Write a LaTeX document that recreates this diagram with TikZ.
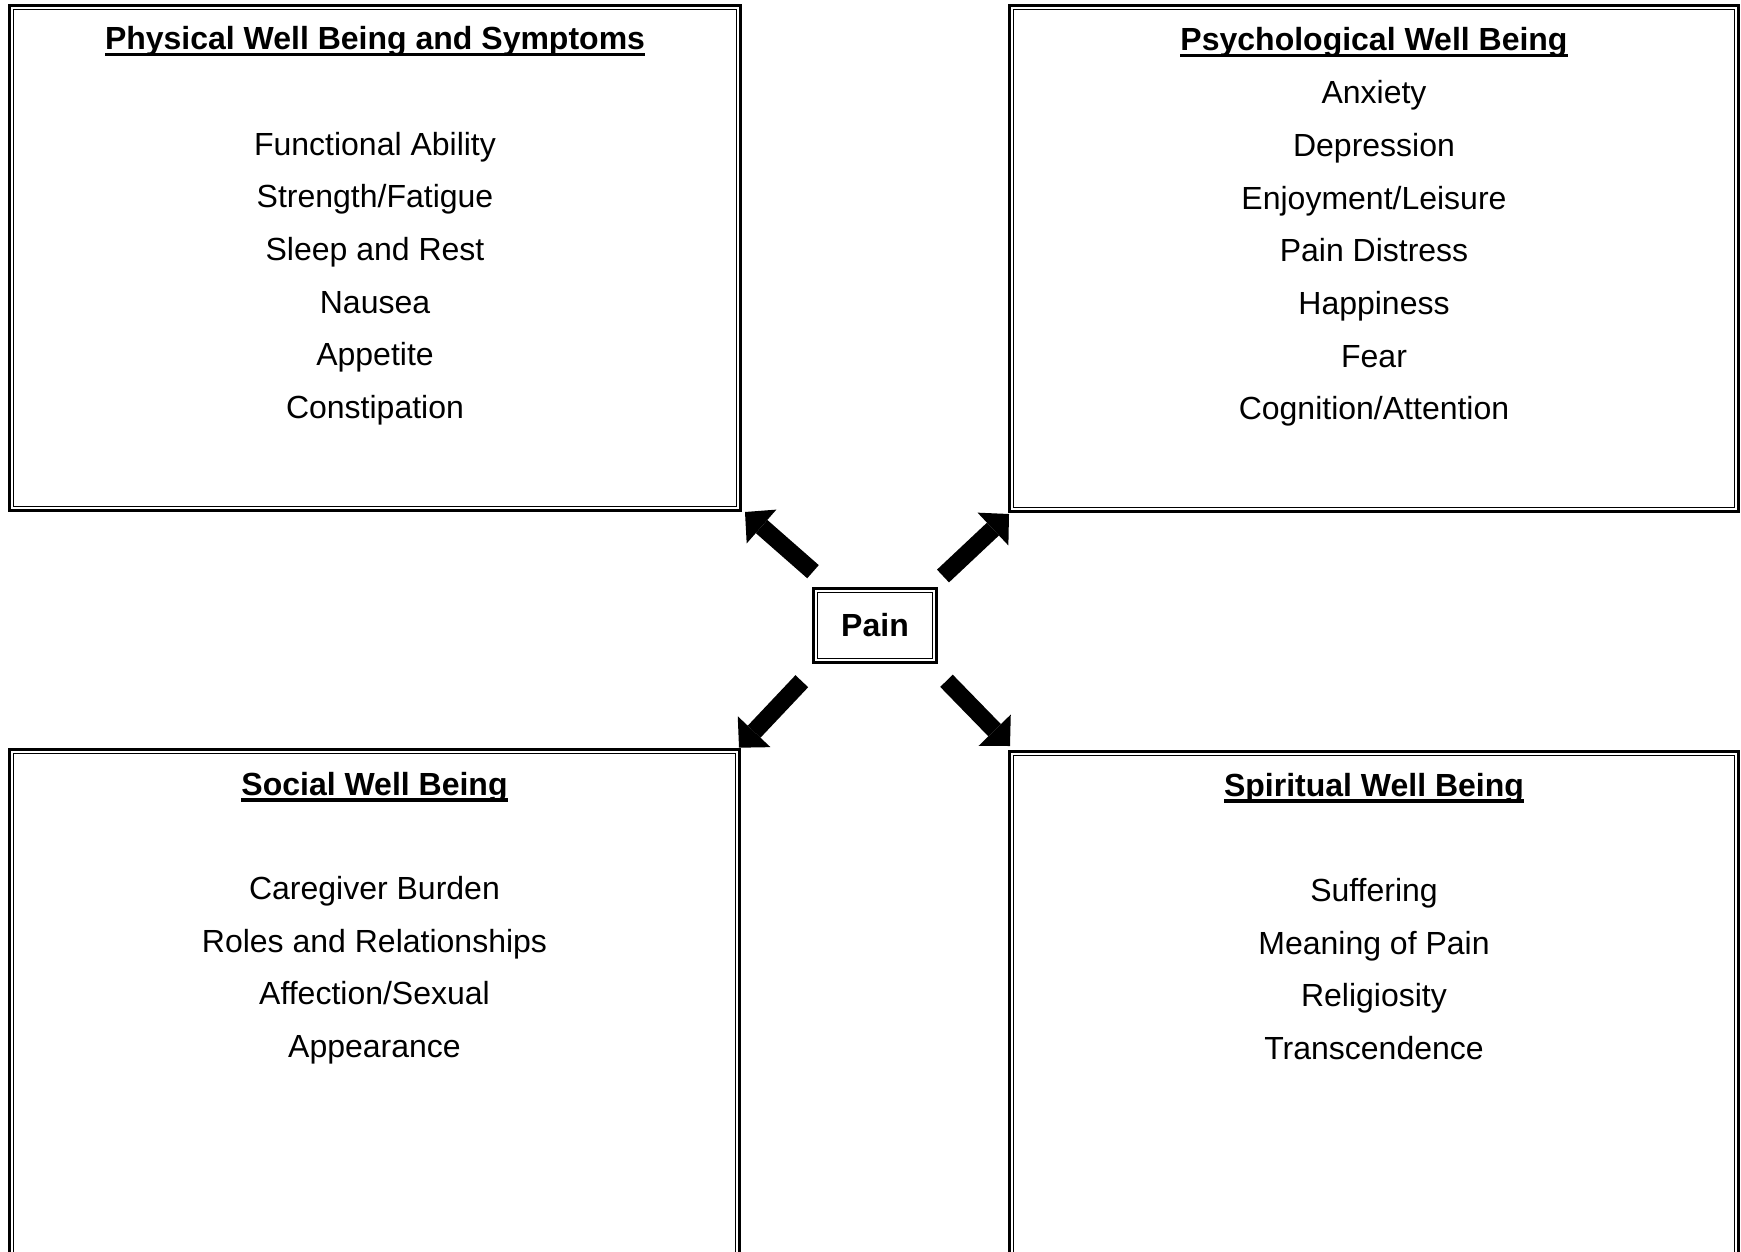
\documentclass[tikz,border=0pt]{standalone}
\usepackage{fontspec}
\setmainfont{Liberation Sans}
\usetikzlibrary{arrows.meta}
\newcommand\ulbar[1]{\setbox0\hbox{#1}\rlap{\rule[-6.5pt]{\wd0}{3.3pt}}\box0}
\begin{document}
\begin{tikzpicture}[x=1pt,y=-1pt,
  outerbox/.style={draw=black,line width=3pt,inner sep=0pt,outer sep=0pt,fill=none},
  innerbox/.style={draw=black,line width=1.1pt,inner sep=0pt,outer sep=0pt,fill=none},
  item/.style={anchor=base,inner sep=0pt,font=\fontsize{32}{38}\selectfont},
  title/.style={anchor=base,inner sep=0pt,font=\fontsize{32}{38}\selectfont\bfseries},
  blockarrow/.style={line width=17.5pt,-{Triangle[length=22pt,width=45pt,line width=0pt]}}]
\useasboundingbox (0,0) rectangle (1741,1252);
\clip (0,0) rectangle (1741,1252);
\fill[white] (0,0) rectangle (1741,1252);

% boxes
\node[outerbox,minimum width=731pt,minimum height=505pt] (phys) at (375,258) {};
\node[innerbox,minimum width=723pt,minimum height=497pt] (physin) at (phys.center) {};
\node[outerbox,minimum width=729pt,minimum height=506pt] (psych) at (1374,258.5) {};
\node[innerbox,minimum width=721pt,minimum height=498pt] (psychin) at (psych.center) {};
\node[outerbox,minimum width=730pt,minimum height=540.5pt] (soc) at (374.5,1019.75) {};
\node[innerbox,minimum width=722pt,minimum height=532.5pt] (socin) at (soc.center) {};
\node[outerbox,minimum width=729pt,minimum height=538.5pt] (spir) at (1374,1020.75) {};
\node[innerbox,minimum width=721pt,minimum height=530.5pt] (spirin) at (spir.center) {};
\node[outerbox,minimum width=123pt,minimum height=74pt] (pain) at (875,625.5) {};
\node[innerbox,minimum width=115pt,minimum height=66pt] (painin) at (pain.center) {};
\node[title] (paintxt) at (875,636) {Pain};

% physical
\node[title] (t1) at (375,50) {\ulbar{Physical Well Being and Symptoms}};
\node[item] (p1) at (375,155.2) {Functional Ability};
\node[item] (p2) at (375,207.85) {Strength/Fatigue};
\node[item] (p3) at (375,260.5) {Sleep and Rest};
\node[item] (p4) at (375,313.15) {Nausea};
\node[item] (p5) at (375,365.8) {Appetite};
\node[item] (p6) at (375,418.45) {Constipation};

% psychological
\node[title] (t2) at (1374,51) {\ulbar{Psychological Well Being}};
\node[item] (q1) at (1374,103.8) {Anxiety};
\node[item] (q2) at (1374,156.45) {Depression};
\node[item] (q3) at (1374,209.1) {Enjoyment/Leisure};
\node[item] (q4) at (1374,261.75) {Pain Distress};
\node[item] (q5) at (1374,314.4) {Happiness};
\node[item] (q6) at (1374,367.05) {Fear};
\node[item] (q7) at (1374,419.7) {Cognition/Attention};

% social
\node[title] (t3) at (374.5,795) {\ulbar{Social Well Being}};
\node[item] (s1) at (374.5,899.5) {Caregiver Burden};
\node[item] (s2) at (374.5,952.15) {Roles and Relationships};
\node[item] (s3) at (374.5,1004.8) {Affection/Sexual};
\node[item] (s4) at (374.5,1057.45) {Appearance};

% spiritual
\node[title] (t4) at (1374,796) {\ulbar{Spiritual Well Being}};
\node[item] (r1) at (1374,901.5) {Suffering};
\node[item] (r2) at (1374,954.15) {Meaning of Pain};
\node[item] (r3) at (1374,1006.8) {Religiosity};
\node[item] (r4) at (1374,1059.45) {Transcendence};

% arrows
\coordinate (a1t) at (813,571.7);
\coordinate (a1h) at (745,512);
\coordinate (a2t) at (943,576);
\coordinate (a2h) at (1009,514);
\coordinate (a3t) at (801.8,681.2);
\coordinate (a3h) at (739,747.7);
\coordinate (a4t) at (946.5,680.8);
\coordinate (a4h) at (1010,746);
\draw[blockarrow] (a1t) -- (a1h);
\draw[blockarrow] (a2t) -- (a2h);
\draw[blockarrow] (a3t) -- (a3h);
\draw[blockarrow] (a4t) -- (a4h);
\end{tikzpicture}
\end{document}
